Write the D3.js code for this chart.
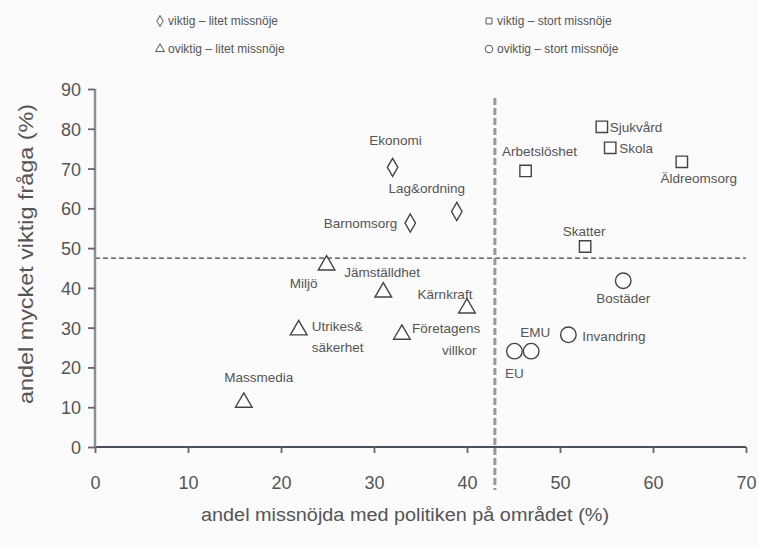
<!DOCTYPE html>
<html><head><meta charset="utf-8">
<script src="https://cdn.jsdelivr.net/npm/d3@7"></script>
<style>
html,body{margin:0;padding:0;background:#fbfbfb;}
svg text{font-family:"Liberation Sans",Arial,sans-serif;fill:#555;}
</style></head>
<body>
<svg id="c" width="759" height="546"></svg>
<script>
// ---- data ----
const names = ["Ekonomi","Lag&ordning","Barnomsorg","Arbetslöshet","Sjukvård","Skola","Äldreomsorg","Skatter",
  "Bostäder","Invandring","EU","EMU",
  "Miljö","Jämställdhet","Kärnkraft","Utrikes&\nsäkerhet","Företagens\nvillkor","Massmedia"];
const missnoje = [32.0,38.9,33.9,46.3,54.5,55.4,63.1,52.7, 56.8,50.9,45.1,46.9, 24.9,31.0,40.0,21.9,33.0,16.0];
const viktig   = [70.3,59.2,56.3,69.4,80.5,75.2,71.7,50.4, 41.8,28.2,24.1,24.1, 45.7,38.9,34.9,29.4,28.3,11.2];
const grupp    = ["vl","vl","vl","vs","vs","vs","vs","vs", "os","os","os","os", "ol","ol","ol","ol","ol","ol"];
const xTicks = [0,10,20,30,40,50,60,70];
const yTicks = [0,10,20,30,40,50,60,70,80,90];
const xSplit = 43, ySplit = 47.5;
const legendLabels = {vl:"viktig – litet missnöje", vs:"viktig – stort missnöje", ol:"oviktig – litet missnöje", os:"oviktig – stort missnöje"};
const xTitle = "andel missnöjda med politiken på området (%)";
const yTitle = "andel mycket viktig fråga (%)";

// ---- label layout (dx, dy relative to marker, anchor) ----
const labelLayout = {
  "Ekonomi":[3,-22,"middle"], "Lag&ordning":[-30,-19,"middle"], "Barnomsorg":[-13,5,"end"],
  "Arbetslöshet":[14,-15,"middle"], "Sjukvård":[8,5,"start"], "Skola":[9,5,"start"],
  "Äldreomsorg":[17,21,"middle"], "Skatter":[-1,-11,"middle"], "Bostäder":[0,22,"middle"],
  "Invandring":[14,6,"start"], "EU":[0,27,"middle"], "EMU":[4,-14,"middle"],
  "Miljö":[-23,23,"middle"], "Jämställdhet":[-39,-15,"start"], "Kärnkraft":[-22,-9,"middle"],
  "Utrikes&\nsäkerhet":[13,1,"start"], "Företagens\nvillkor":[10,-1,"start"], "Massmedia":[15,-20,"middle"]
};

const svg = d3.select("#c");
const x = d3.scaleLinear().domain([0,70]).range([95,746]);
const y = d3.scaleLinear().domain([0,90]).range([447,89]);

const symType = {vl:d3.symbolDiamond, vs:d3.symbolSquare, ol:d3.symbolTriangle, os:d3.symbolCircle};
const symSize = {vl:95, vs:130, ol:120, os:190};
const sym = g => d3.symbol().type(symType[g]).size(symSize[g])();

// dashed split lines
svg.append("line").attr("x1",x(0)).attr("x2",x(70)).attr("y1",y(ySplit)).attr("y2",y(ySplit))
  .attr("stroke","#444").attr("stroke-width",1.3).attr("stroke-dasharray","5,3");
svg.append("line").attr("x1",x(xSplit)).attr("x2",x(xSplit)).attr("y1",98).attr("y2",490)
  .attr("stroke","#999").attr("stroke-width",3).attr("stroke-dasharray","7,3");

// axes
const xa = svg.append("g").attr("transform",`translate(0,${y(0)})`)
  .call(d3.axisBottom(x).tickValues(xTicks).tickSize(6).tickPadding(23).tickFormat(d3.format("d")));
const ya = svg.append("g").attr("transform",`translate(${x(0)},0)`)
  .call(d3.axisLeft(y).tickValues(yTicks).tickSize(7).tickPadding(7).tickFormat(d3.format("d")));
xa.select(".domain").attr("stroke","#4a4f5a").attr("stroke-width",2).attr("d",`M${x(0)},0H${x(70)}`);
ya.select(".domain").attr("stroke","#8a8f99").attr("stroke-width",2.5).attr("d",`M0,${y(90)}V${y(0)}`);
[xa,ya].forEach(a=>{
  a.selectAll(".tick line").attr("stroke","#666").attr("stroke-width",1.8);
  a.selectAll(".tick text").attr("font-size",18).attr("fill","#555")
    .style("font-family","'Liberation Sans Narrow','Liberation Sans',Arial,sans-serif");
});
ya.selectAll(".tick text").attr("dy","0.36em");

// axis titles
svg.append("text").attr("x",405).attr("y",521).attr("text-anchor","middle").attr("font-size",18)
  .attr("textLength",408).attr("lengthAdjust","spacingAndGlyphs").text(xTitle);
svg.append("text").attr("transform","translate(33,254) rotate(-90)").attr("text-anchor","middle")
  .attr("font-size",20).attr("textLength",300).attr("lengthAdjust","spacingAndGlyphs").text(yTitle);

// points
const pts = svg.append("g");
names.forEach((n,i)=>{
  pts.append("path").attr("d",sym(grupp[i]))
    .attr("transform",`translate(${x(missnoje[i])},${y(viktig[i])})`)
    .attr("fill","#fff").attr("stroke","#444").attr("stroke-width",1.4);
  const L = labelLayout[n];
  const t = svg.append("text").attr("font-size",13.5).attr("text-anchor",L[2])
    .attr("x",x(missnoje[i])+L[0]).attr("y",y(viktig[i])+L[1]);
  const lines = n.split("\n");
  lines.forEach((ln,j)=>{
    const ts = t.append("tspan").attr("x",x(missnoje[i])+L[0]).attr("dy", j===0?0:21).text(ln);
    if(n==="Företagens\nvillkor" && j===1){ ts.attr("x",x(missnoje[i])+L[0]+30).attr("dy",22); }
  });
});

// legend
const leg = [["vl",160,21],["ol",160,49],["vs",489,21],["os",489,49]];
leg.forEach(([g,lx,ly])=>{
  svg.append("path").attr("d",d3.symbol().type(symType[g]).size(g==="os"?45:35)())
    .attr("transform",`translate(${lx},${ly})`).attr("fill","#fff").attr("stroke","#555").attr("stroke-width",1);
  svg.append("text").attr("x",lx+8).attr("y",ly+4).attr("font-size",12).text(legendLabels[g]);
});
</script>
</body></html>
